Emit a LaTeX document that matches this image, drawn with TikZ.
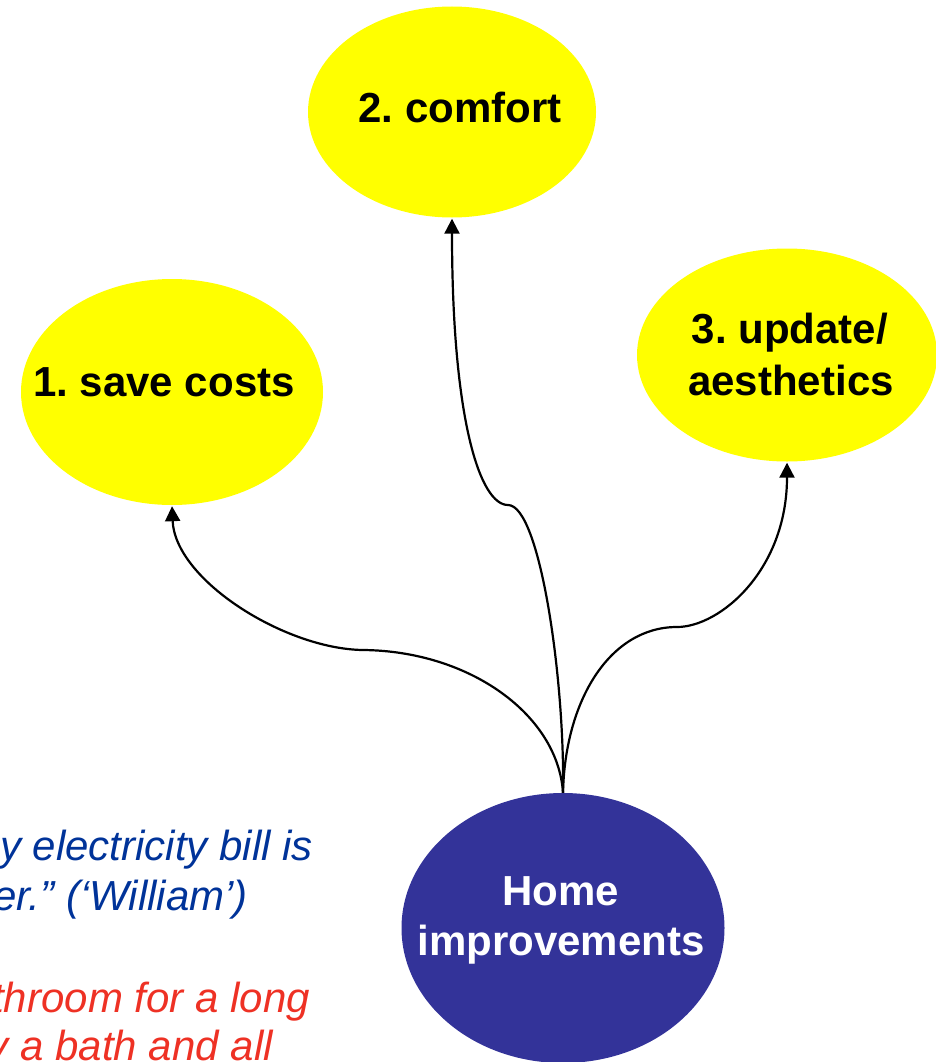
\documentclass[tikz,border=0pt]{standalone}
\usepackage{fontspec}
\setmainfont{Liberation Sans}
\usetikzlibrary{arrows.meta,shapes.geometric}
\frenchspacing
\definecolor{bubble}{HTML}{FFFF00}
\definecolor{homeblue}{HTML}{333399}
\definecolor{quoteblue}{HTML}{003399}
\definecolor{quotered}{HTML}{EE3124}
\tikzset{
  bubblenode/.style={ellipse, fill=bubble, draw=none, inner sep=0pt},
  homenode/.style={ellipse, fill=homeblue, draw=none, inner sep=0pt},
  lbl/.style={inner sep=0pt, font=\fontsize{42}{50}\selectfont\bfseries},
  quote/.style={inner sep=0pt, font=\fontsize{42}{50}\selectfont\itshape},
  link/.style={line width=2.2pt, -{Triangle[length=15pt,width=15pt]}, shorten >=1pt}
}
\begin{document}
\begin{tikzpicture}[x=1pt,y=-1pt]
\useasboundingbox (0,0) rectangle (936,1062);
\clip (0,0) rectangle (936,1062);
% ellipses
\node[bubblenode, minimum width=288pt, minimum height=211pt] (n2) at (452,112) {};
\node[bubblenode, minimum width=302pt, minimum height=226pt] (n1) at (172,392) {};
\node[bubblenode, minimum width=300pt, minimum height=213pt] (n3) at (787,355) {};
\node[homenode, minimum width=323pt, minimum height=270pt] (home) at (563,928) {};
% connectors
\draw[link] (home.north) .. controls (558,715) and (470,651) .. (363,650)
   .. controls (285,649) and (175,580) .. (n1.south);
\draw[link] (home.north) .. controls (565,680) and (540,505) .. (508,505)
   .. controls (480,505) and (452,420) .. (n2.south);
\draw[link] (home.north) .. controls (565,700) and (610,627) .. (677,627)
   .. controls (720,627) and (787,570) .. (n3.south);
% labels
\node[lbl, anchor=base] (t2) at (460,123) {2. comfort};
\node[lbl, anchor=base] (t1) at (164,396) {1. save costs};
\node[lbl, anchor=base] (t3a) at (790,343) {3. update/};
\node[lbl, anchor=base] (t3b) at (791,395) {aesthetics};
\node[lbl, anchor=base, text=white] (th1) at (561,905) {Home};
\node[lbl, anchor=base, text=white] (th2) at (561,955) {improvements};
% quotes (cut at the left edge, as in the reference)
\node[quote, anchor=base east, text=quoteblue] (q1) at (313,860) {y electricity bill is};
\node[quote, anchor=base east, text=quoteblue] (q2) at (248,910) {er.” (‘William’)};
\node[quote, anchor=base east, text=quotered] (q3) at (310,1012) {throom for a long};
\node[quote, anchor=base east, text=quotered] (q4) at (273,1060) {y a bath and all};
\end{tikzpicture}
\end{document}
